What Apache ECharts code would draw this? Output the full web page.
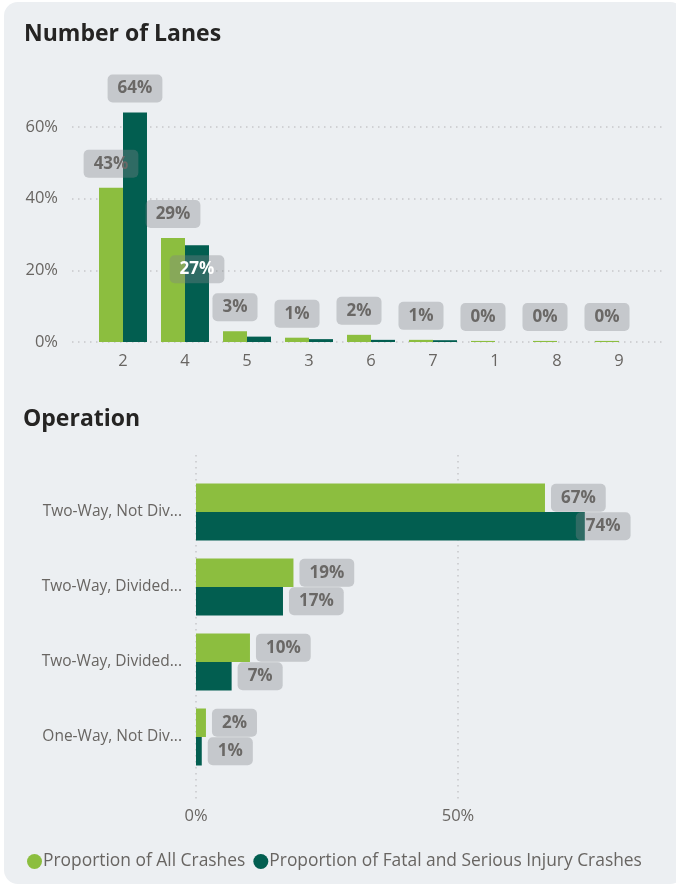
<!doctype html>
<html>
<head>
<meta charset="utf-8">
<title>Lanes and Operation</title>
<script src="https://cdn.jsdelivr.net/npm/echarts@6/dist/echarts.min.js"></script>
<style>
  html, body { margin: 0; padding: 0; background: #fff; }
  #card { position: absolute; left: 4px; top: 2px; width: 680px; height: 882px; background: #ECEFF2; border-radius: 14px; }
  #main { position: absolute; left: 0; top: 0; width: 676px; height: 886px; }
</style>
</head>
<body>
<div id="card"></div>
<div id="main"></div>
<script>
  // number of lanes
  var lanes = ['2', '4', '5', '3', '6', '7', '1', '8', '9'];
  var lanesAll = [43, 29, 3, 1.2, 2, 0.6, 0.3, 0.3, 0.3];
  var lanesFatal = [64, 27, 1.5, 0.8, 0.6, 0.5, 0, 0, 0];
  var lanesTicks = [0, 20, 40, 60];

  // operation
  var ops = ['Two-Way, Not Div...', 'Two-Way, Divided...', 'Two-Way, Divided...', 'One-Way, Not Div...'];
  var opsAll = [66.6, 18.6, 10.3, 1.9];
  var opsFatal = [74.2, 16.6, 6.8, 1.1];
  var opsTicks = [0, 50];

  var GREEN = '#8CBE3F', TEAL = '#025E50';
  var TXT = '#686562';
  var FONT = "'Open Sans', 'Segoe UI', sans-serif";

  var dotted = { show: true, lineStyle: { color: '#C6C8CA', type: [1.5, 4.5], width: 1.5 } };
  var boxLabel = {
    show: true,
    fontFamily: FONT, fontSize: 17, lineHeight: 18, fontWeight: 'bold', color: '#6A6866',
    backgroundColor: 'rgba(128,131,135,0.36)', borderRadius: 5, padding: [5, 10],
    formatter: function (p) { return Math.round(p.value) + '%'; }
  };

  function lbl(extra) { return Object.assign({}, boxLabel, extra); }

  // fatal labels only where they would not collide with the green ones
  var lanesFatalData = lanesFatal.map(function (v, i) {
    var item = { value: v };
    if (v < 5) item.label = { show: false };
    if (i === 1) item.label = { position: 'insideTop', distance: 10, color: '#fff' };
    return item;
  });
  var opsFatalData = opsFatal.map(function (v, i) {
    return i === 0 ? { value: v, label: { distance: -9 } } : v;
  });

  var myChart = echarts.init(document.getElementById('main'), null, { renderer: 'canvas' });

  var option = {
    backgroundColor: 'transparent',
    animation: false,
    textStyle: { fontFamily: FONT },
    title: [
      { text: 'Number of Lanes', left: 19, top: 18, textStyle: { fontFamily: FONT, fontSize: 23, fontWeight: 'bold', color: '#252423' } },
      { text: 'Operation', left: 18, top: 403, textStyle: { fontFamily: FONT, fontSize: 23, fontWeight: 'bold', color: '#252423' } }
    ],
    legend: {
      left: 22, bottom: 11, itemGap: 8, itemWidth: 15, itemHeight: 15, icon: 'circle',
      textStyle: { fontFamily: FONT, fontSize: 17.4, color: TXT, padding: [0, 0, 0, -4] },
      data: ['Proportion of All Crashes', 'Proportion of Fatal and Serious Injury Crashes']
    },
    grid: [
      { left: 72, right: 11, top: 127, height: 215 },
      { left: 92, right: 26, top: 91, height: 251 },
      { left: 196, width: 262, top: 455, height: 345 },
      { left: 196, width: 471.6, top: 474.5, height: 300 }
    ],
    xAxis: [
      { gridIndex: 0, type: 'value', min: 0, max: 1, show: false },
      {
        gridIndex: 1, type: 'category', data: lanes,
        axisLine: { show: false }, axisTick: { show: false },
        axisLabel: { fontFamily: FONT, fontSize: 16.5, color: TXT, margin: 11 }
      },
      {
        gridIndex: 2, type: 'value', min: opsTicks[0], max: opsTicks[opsTicks.length - 1], interval: 50,
        axisLine: { show: false }, axisTick: { show: false }, splitLine: dotted,
        axisLabel: { fontFamily: FONT, fontSize: 16.5, color: TXT, margin: 8, formatter: '{value}%' }
      },
      { gridIndex: 3, type: 'value', min: 0, max: 90, show: false }
    ],
    yAxis: [
      {
        gridIndex: 0, type: 'value', min: lanesTicks[0], max: lanesTicks[lanesTicks.length - 1], interval: 20,
        axisLine: { show: false }, axisTick: { show: false }, splitLine: dotted,
        axisLabel: { fontFamily: FONT, fontSize: 16.5, color: TXT, margin: 14, formatter: '{value}%' }
      },
      { gridIndex: 1, type: 'value', min: 0, max: 70, show: false },
      { gridIndex: 2, type: 'value', min: 0, max: 1, show: false },
      {
        gridIndex: 3, type: 'category', data: ops, inverse: true,
        axisLine: { show: false }, axisTick: { show: false },
        axisLabel: { fontFamily: FONT, fontSize: 15.5, color: TXT, margin: 14 }
      }
    ],
    series: [
      {
        name: 'Proportion of All Crashes', type: 'bar', xAxisIndex: 1, yAxisIndex: 1,
        data: lanesAll, itemStyle: { color: GREEN }, barGap: '0%', barCategoryGap: '22.6%',
        label: lbl({ position: 'top', distance: 10 })
      },
      {
        name: 'Proportion of Fatal and Serious Injury Crashes', type: 'bar', xAxisIndex: 1, yAxisIndex: 1,
        data: lanesFatalData, itemStyle: { color: TEAL }, barGap: '0%', barCategoryGap: '22.6%',
        label: lbl({ position: 'top', distance: 10 })
      },
      {
        name: 'Proportion of All Crashes', type: 'bar', xAxisIndex: 3, yAxisIndex: 3,
        data: opsAll, itemStyle: { color: GREEN }, barGap: '0%', barCategoryGap: '24%',
        label: lbl({ position: 'right', distance: 6 })
      },
      {
        name: 'Proportion of Fatal and Serious Injury Crashes', type: 'bar', xAxisIndex: 3, yAxisIndex: 3,
        data: opsFatalData, itemStyle: { color: TEAL }, barGap: '0%', barCategoryGap: '24%',
        label: lbl({ position: 'right', distance: 6 })
      }
    ]
  };

  myChart.setOption(option);
</script>
</body>
</html>
